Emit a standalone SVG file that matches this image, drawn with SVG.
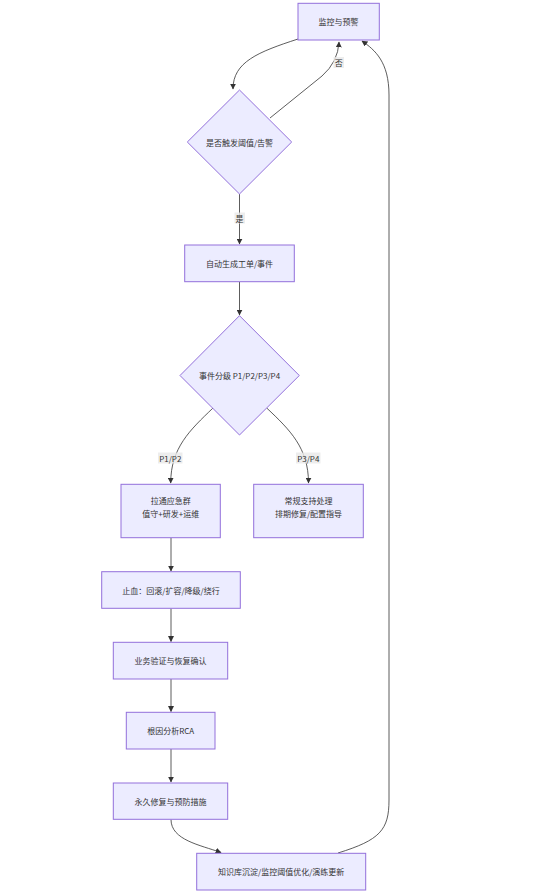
<svg xmlns="http://www.w3.org/2000/svg" width="536" height="894" viewBox="0 0 536 894">
<style>
.n{fill:#ECECFF;stroke:#9370DB;stroke-width:1}
.t{font-family:"Noto Sans CJK SC","Liberation Sans",sans-serif;font-size:8px;fill:#333;text-anchor:middle;dominant-baseline:central}
.e{fill:none;stroke:#333;stroke-width:0.8}
.lb{fill:#e8e8e8;opacity:0.8}
</style>
<defs>
<marker id="ah" viewBox="0 0 10 10" refX="9" refY="5" markerWidth="6" markerHeight="6" markerUnits="userSpaceOnUse" orient="auto">
<path d="M0,0 L10,5 L0,10 z" fill="#333"/>
</marker>
</defs>
<rect width="536" height="894" fill="#fff"/>
<g id="edges">
<path class="e" d="M298,39 C258,52 233,62 233,89" marker-end="url(#ah)"/>
<path class="e" d="M270,118 L322,76 Q338,62 339,42" marker-end="url(#ah)"/>
<path class="e" d="M239.5,194 L239.5,244" marker-end="url(#ah)"/>
<path class="e" d="M239.5,282 L239.5,315" marker-end="url(#ah)"/>
<path class="e" d="M213,408 C190,430 170.7,448 170.7,483" marker-end="url(#ah)"/>
<path class="e" d="M266.7,408 C290,430 308.5,448 308.5,483" marker-end="url(#ah)"/>
<path class="e" d="M171,538 L171,571" marker-end="url(#ah)"/>
<path class="e" d="M171,608.5 L171,641.5" marker-end="url(#ah)"/>
<path class="e" d="M171,679 L171,711.5" marker-end="url(#ah)"/>
<path class="e" d="M171,749 L171,782" marker-end="url(#ah)"/>
<path class="e" d="M171,819.5 C171,840 200,845 221,852.5" marker-end="url(#ah)"/>
<path class="e" d="M338,853 C380,840 389,830 389,800 L389,95 C389,62 375,50 362,41" marker-end="url(#ah)"/>
<rect class="lb" x="333.5" y="57" width="10.5" height="11"/>
<text class="t" x="338.7" y="62.7">否</text>
<rect class="lb" x="234.5" y="212.5" width="10.5" height="11"/>
<text class="t" x="239.5" y="218">是</text>
<rect class="lb" x="158" y="452.5" width="24.5" height="11"/>
<text class="t" x="170.3" y="458">P1/P2</text>
<rect class="lb" x="296" y="452.5" width="24.5" height="11"/>
<text class="t" x="308.3" y="458">P3/P4</text>
</g>
<g id="n1"><rect class="n" x="298" y="3.3" width="81.3" height="36.7"/><text class="t" x="338.6" y="21.6">监控与预警</text></g>
<g id="n2"><polygon class="n" points="239.5,90 291.7,142 239.5,194 187.3,142"/><text class="t" x="239.5" y="142">是否触发阈值/告警</text></g>
<g id="n3"><rect class="n" x="184.7" y="245" width="109.6" height="36.7"/><text class="t" x="239.5" y="263.3">自动生成工单/事件</text></g>
<g id="n4"><polygon class="n" points="239.5,315.7 299.3,375.5 239.5,435 180,375.5"/><text class="t" x="239.5" y="375.5">事件分级 P1/P2/P3/P4</text></g>
<g id="n5"><rect class="n" x="121" y="484.3" width="99.3" height="53.4"/><text class="t" x="170.7" y="500">拉通应急群</text><text class="t" x="170.7" y="513">值守+研发+运维</text></g>
<g id="n6"><rect class="n" x="253.7" y="484.3" width="109.6" height="53.4"/><text class="t" x="308.5" y="500">常规支持处理</text><text class="t" x="308.5" y="513">排期修复/配置指导</text></g>
<g id="n7"><rect class="n" x="101.7" y="571.7" width="138.6" height="36.6"/><text class="t" x="171" y="590">止血：回滚/扩容/降级/绕行</text></g>
<g id="n8"><rect class="n" x="113.3" y="642.3" width="114.4" height="36.7"/><text class="t" x="170.5" y="660.7">业务验证与恢复确认</text></g>
<g id="n9"><rect class="n" x="126.3" y="712.3" width="88.7" height="36.7"/><text class="t" x="170.7" y="730.7">根因分析RCA</text></g>
<g id="n10"><rect class="n" x="113.3" y="783" width="114.4" height="36.3"/><text class="t" x="170.5" y="801.2">永久修复与预防措施</text></g>
<g id="n11"><rect class="n" x="196.7" y="853.3" width="169" height="36.7"/><text class="t" x="281.2" y="871.7">知识库沉淀/监控阈值优化/演练更新</text></g>
</svg>
